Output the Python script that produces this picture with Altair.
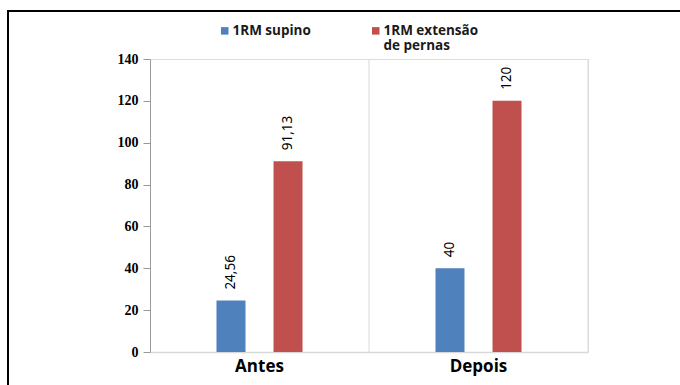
import altair as alt
import pandas as pd

periods = ["Antes", "Antes", "Depois", "Depois"]
series = ["1RM supino", "1RM extensão de pernas", "1RM supino", "1RM extensão de pernas"]
values = [24.56, 91.13, 40, 120]
labels = ["24,56", "91,13", "40", "120"]

series_order = ["1RM supino", "1RM extensão de pernas"]
colors = ["#4F81BD", "#C0504D"]

df = pd.DataFrame({"period": periods, "series": series, "value": values, "label": labels})

x_enc = alt.X("period:N", sort=["Antes", "Depois"],
              scale=alt.Scale(paddingInner=0, paddingOuter=0),
              axis=alt.Axis(title=None, ticks=False, labelAngle=0, labelAlign="center",
                            labelFont="Open Sans",
                            labelFontWeight="bold", labelFontSize=17, labelColor="black",
                            labelPadding=14, domainColor="#d9d9d9", domainWidth=1.5))
xo_enc = alt.XOffset("series:N", sort=series_order,
                     scale=alt.Scale(paddingInner=0.16, paddingOuter=1))
y_enc = alt.Y("value:Q", scale=alt.Scale(domain=[0, 140]),
              axis=alt.Axis(title=None, values=[0, 20, 40, 60, 80, 100, 120, 140], grid=False,
                            labelFont="Liberation Serif", labelFontWeight="bold", labelFontSize=14,
                            labelColor="black", tickColor="#999999", tickSize=7, labelPadding=5,
                            domainColor="#999999", domainWidth=1))

legend_expr = ("datum.label == '1RM extensão de pernas' ? ['1RM extensão', 'de pernas'] "
               ": [datum.label, ' ']")

bars = alt.Chart(df).mark_bar(width=29).encode(
    x=x_enc, xOffset=xo_enc, y=y_enc,
    color=alt.Color("series:N", sort=series_order,
                    scale=alt.Scale(domain=series_order, range=colors),
                    legend=alt.Legend(title=None, orient="none", legendX=68, legendY=-35,
                                      direction="horizontal", symbolType="square", symbolSize=56,
                                      symbolStrokeWidth=0, labelFont="Open Sans", labelFontWeight="bold",
                                      labelFontSize=13.5, labelColor="#1a1a1a", columnPadding=58,
                                      labelOffset=1, padding=0,
                                      labelExpr=legend_expr)),
)

text = alt.Chart(df).mark_text(angle=270, align="left", baseline="middle", dx=11,
                               font="Noto Sans", fontSize=13.5, color="black").encode(
    x=alt.X("period:N", sort=["Antes", "Depois"]), xOffset=alt.XOffset("series:N", sort=series_order),
    y="value:Q", text="label:N")

div_df = pd.DataFrame({"period": ["Antes", "Depois"]})
dividers = alt.Chart(div_df).mark_rule(color="#d9d9d9", strokeWidth=1).encode(
    x=alt.X("period:N", sort=["Antes", "Depois"], bandPosition=1),
    y=alt.value(0), y2=alt.value(293))

border = alt.Chart(div_df).mark_rect(fill=None, stroke="black", strokeWidth=2).encode(
    x=alt.value(-142), x2=alt.value(600), y=alt.value(-48), y2=alt.value(400))

chart = alt.layer(dividers, bars, text, border).properties(
    width=438, height=293,
    autosize=alt.AutoSizeParams(type="none"),
    padding={"left": 150, "top": 59, "right": 92, "bottom": 33},
).configure_view(stroke=None).configure(background="white")

chart.save("out.html", embed_options={"renderer": "svg", "actions": False})
